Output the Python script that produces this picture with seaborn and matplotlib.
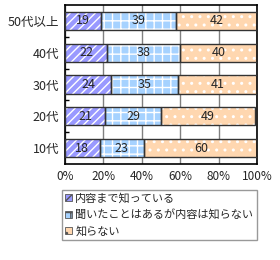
import matplotlib
matplotlib.use("Agg")
import matplotlib.pyplot as plt
import seaborn as sns
import pandas as pd
import numpy as np
from matplotlib.patches import Patch

sns.set_style("white")
plt.rcParams['font.family'] = ['Noto Sans CJK JP', 'DejaVu Sans']
plt.rcParams['hatch.linewidth'] = 1.0

categories = ["50代以上", "40代", "30代", "20代", "10代"]
series_names = ["内容まで知っている", "聞いたことはあるが内容は知らない", "知らない"]
know = [19, 22, 24, 21, 18]
heard = [39, 38, 35, 29, 23]
unknown = [42, 40, 41, 49, 60]
xticks = [0, 20, 40, 60, 80, 100]
xticklabels = ["0%", "20%", "40%", "60%", "80%", "100%"]

faces = ["#9999ff", "#a6d2ff", "#ffd7b0"]
hatches = ["////", "++", ".."]
hcolors = ["#ffffff", "#ffffff", "#ffffff"]

c1 = np.array(know)
c2 = c1 + np.array(heard)
c3 = c2 + np.array(unknown)
starts = [np.zeros(5), c1, c2]
widths = [np.array(know), np.array(heard), np.array(unknown)]

fig = plt.figure(figsize=(2.8, 2.6), dpi=100)
ax = fig.add_axes([0.232, 0.369, 0.686, 0.612])

# draw stacked bars (largest cumulative first)
for cum, face, hat, hc in zip([c3, c2, c1], faces[::-1], hatches[::-1], hcolors[::-1]):
    d = pd.DataFrame({"cat": categories, "v": cum})
    sns.barplot(data=d, y="cat", x="v", orient="h", color=face, saturation=1,
                width=0.57, ax=ax, edgecolor=hc, linewidth=0)
    n = len(ax.patches)
    for p in ax.patches[n-5:]:
        p.set_hatch(hat)
        p.set_facecolor(face)
        p.set_edgecolor(hc)
        p.set_linewidth(0)
# outlines
for s, w in zip(starts, widths):
    ax.barh(np.arange(5), w, left=s, height=0.57, fill=False, edgecolor="#333333", linewidth=1.0, zorder=3)

# labels
for s, w in zip(starts, widths):
    for i in range(5):
        ax.text(s[i] + w[i] / 2, i, str(w[i]), ha="center", va="center", fontsize=9, zorder=4)

ax.set_xlim(0, 100)
ax.set_ylim(4.5, -0.5)
ax.set_xticks(xticks)
ax.set_xticklabels(xticklabels, fontsize=8.5)
ax.set_yticks(range(5))
ax.set_yticklabels(categories, fontsize=9)
ax.set_xlabel("")
ax.set_ylabel("")
ax.tick_params(axis="both", length=0, pad=4)
ax.set_yticks(np.arange(0.5, 4.5, 1), minor=True)
ax.tick_params(axis="y", which="minor", direction="in", length=3, width=1, color="black", left=True)
ax.xaxis.grid(True, color="#808080", linewidth=1)
ax.set_axisbelow(True)
for sp in ax.spines.values():
    sp.set_color("black")
    sp.set_linewidth(1.2)

handles = [Patch(facecolor=f, hatch=h, edgecolor="#555555", linewidth=0.6) for f, h in zip(faces, hatches)]
leg = fig.legend(handles, series_names, loc="upper left", bbox_to_anchor=(0.221, 0.27),
                 fontsize=8, frameon=True, fancybox=False, edgecolor="#808080",
                 handlelength=0.6, handleheight=0.6, handletextpad=0.3, borderpad=0.3,
                 labelspacing=0.5, borderaxespad=0)
leg.get_frame().set_linewidth(1)

fig.savefig("out.png", dpi=100)
